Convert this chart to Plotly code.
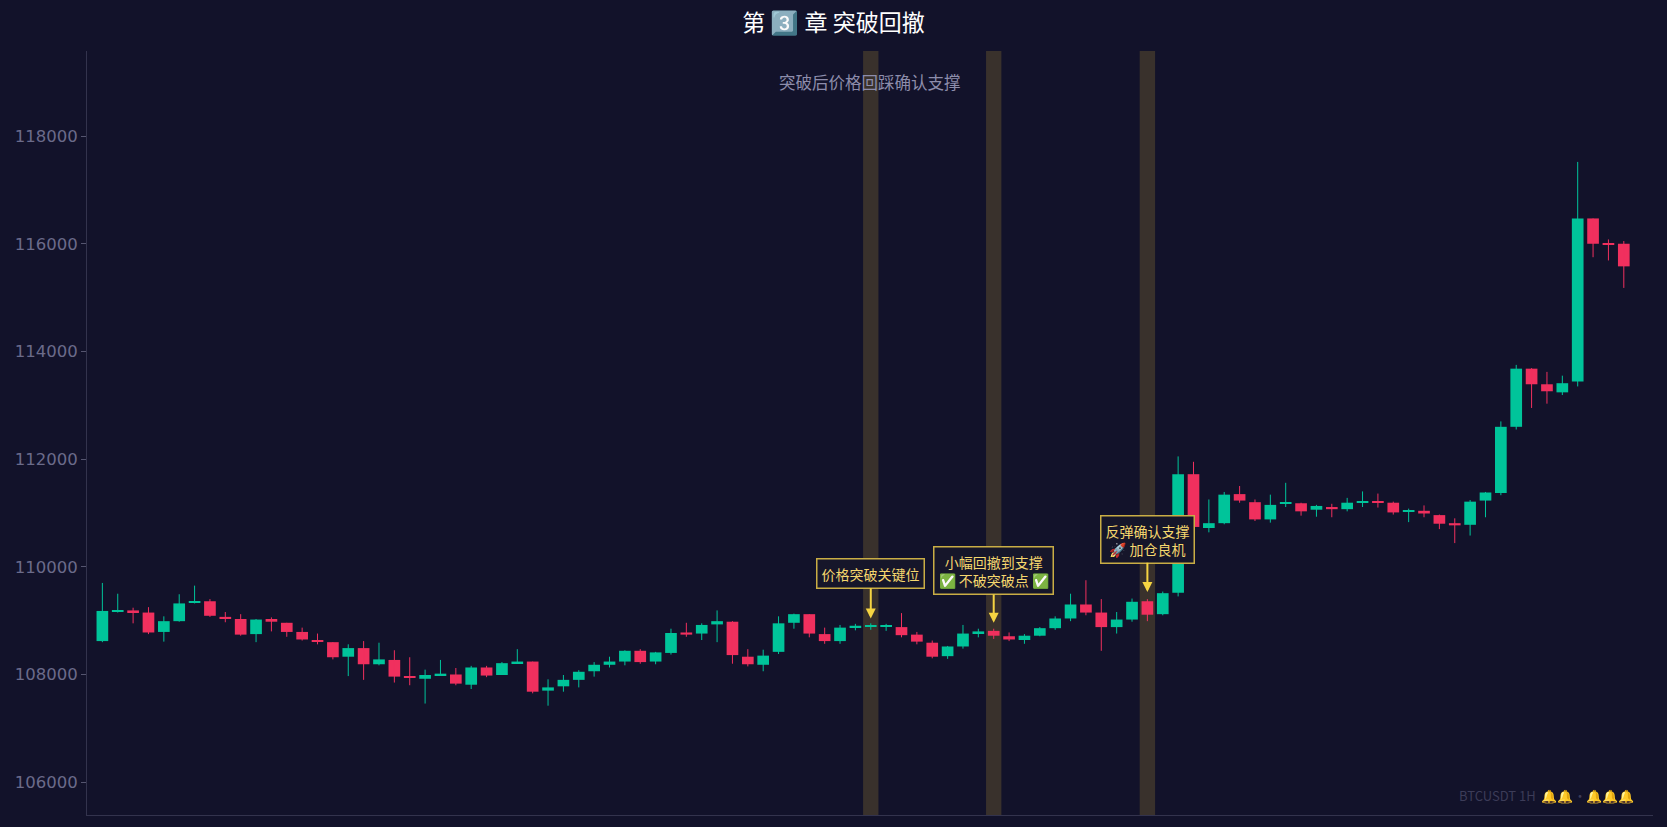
import plotly.graph_objects as go

idx = list(range(100))
opens = [108620,109170,109190,109150,108790,108990,109330,109360,109070,109030,
 108750,109030,108960,108790,108640,108600,108330,108490,108190,108270,
 107950,107920,107990,108000,107810,108130,107990,108210,108240,107700,
 107780,107900,108060,108180,108240,108440,108240,108400,108780,108760,
 108930,108980,108330,108180,108420,108960,109120,108750,108620,108880,
 108890,108890,108880,108740,108590,108340,108520,108770,108810,108710,
 108640,108720,108860,109040,109300,109150,108880,109020,109360,109120,
 109520,111720,110720,110810,111350,111200,110880,111170,111180,111060,
 111110,111070,111190,111210,111190,111020,111040,110960,110810,110780,
 111230,111370,112600,113680,113390,113240,113440,116470,116000,116000]
closes = [109180,109190,109160,108780,108990,109320,109360,109090,109030,108740,
 109020,108980,108790,108650,108610,108320,108490,108190,108280,107960,
 107940,107990,108010,107830,108130,107980,108210,108240,107680,107760,
 107900,108050,108180,108240,108440,108230,108410,108770,108740,108920,
 108990,108360,108190,108350,108950,109120,108760,108620,108870,108900,
 108900,108890,108730,108610,108330,108520,108760,108800,108720,108650,
 108720,108860,109040,109300,109150,108880,109020,109350,109110,109510,
 111720,110740,110810,111340,111230,110880,111150,111200,111030,111130,
 111070,111190,111210,111190,111010,111040,110990,110800,110770,111210,
 111380,112600,113680,113390,113260,113410,116470,116000,115980,115580]
highs = [109700,109500,109240,109250,109080,109490,109650,109400,109160,109120,
 109030,109060,108960,108870,108760,108600,108560,108620,108590,108450,
 108320,108090,108270,108120,108160,108160,108230,108470,108240,107910,
 107990,108080,108230,108330,108450,108470,108420,108850,108960,108950,
 109190,108990,108470,108460,109080,109130,109120,108870,108920,108940,
 108950,108940,109140,108790,108630,108530,108920,108850,108850,108780,
 108750,108880,109080,109500,109750,109400,109160,109410,109400,109540,
 112050,111950,111250,111390,111500,111250,111340,111560,111190,111150,
 111170,111280,111400,111360,111210,111080,111140,110970,110900,111240,
 111390,112700,113750,113690,113620,113550,117520,116470,116080,116050]
lows = [108600,109150,108950,108750,108610,108980,109320,109070,108970,108720,
 108600,108800,108700,108630,108560,108280,107970,107900,108170,107850,
 107800,107460,107980,107800,107730,107950,107990,108200,107650,107420,
 107680,107760,107960,108130,108170,108200,108190,108370,108700,108640,
 108600,108200,108150,108060,108380,108850,108690,108570,108570,108820,
 108830,108810,108690,108560,108300,108290,108480,108690,108660,108620,
 108570,108710,108830,108990,109100,108440,108760,108980,108990,109100,
 109450,110700,110640,110790,111190,110850,110820,111110,110950,110930,
 110920,111030,111110,111100,110970,110830,110920,110700,110440,110580,
 110920,111330,112550,112950,113030,113190,113350,115750,115690,115180]

highlight_idx = [50, 58, 68]
ann_idx = [50, 58, 68]
ann_y = [109040, 108960, 109530]
ann_text = ["价格突破关键位", "小幅回撤到支撑<br>✅ 不破突破点 ✅", "反弹确认支撑<br>🚀 加仓良机"]
ann_ay = [-45, -52, -53]
ytick_vals = [106000, 108000, 110000, 112000, 114000, 116000, 118000]

BG = "#12122a"
UP, DN = "#00c49a", "#f0305e"

fig = go.Figure()
for up, col in [(True, UP), (False, DN)]:
    sel = [i for i in idx if (closes[i] >= opens[i]) == up]
    wx, wy = [], []
    for i in sel:
        wx += [i, i, None]
        wy += [lows[i], highs[i], None]
    fig.add_trace(go.Scatter(x=wx, y=wy, mode="lines", line=dict(color=col, width=1),
                             showlegend=False, hoverinfo="skip"))
    fig.add_trace(go.Bar(x=sel,
                         base=[min(opens[i], closes[i]) for i in sel],
                         y=[max(abs(closes[i] - opens[i]), 25) for i in sel],
                         width=0.76, marker=dict(color=col, line=dict(width=0)),
                         showlegend=False, hoverinfo="skip"))

for i in highlight_idx:
    fig.add_vrect(x0=i - 0.5, x1=i + 0.5, fillcolor="#4a3f2e", opacity=0.7,
                  line_width=0, layer="below")

for i, y, t, ay in zip(ann_idx, ann_y, ann_text, ann_ay):
    fig.add_annotation(x=i, y=y, text=t, showarrow=True, arrowhead=2, arrowsize=1,
                       arrowwidth=2, arrowcolor="#f5d442", ax=0, ay=ay,
                       font=dict(color="#f5d76e", size=14, family="Noto Sans CJK SC"),
                       bgcolor="#16162a", bordercolor="#c9ad45", borderwidth=1.5,
                       borderpad=4)

fig.add_annotation(xref="paper", yref="paper", x=0.5, y=0.978,
                   text="突破后价格回踩确认支撑", showarrow=False,
                   font=dict(color="#8d8dab", size=16.5, family="Noto Sans CJK SC"))
fig.add_annotation(xref="paper", yref="paper", x=0.99, y=0.01, xanchor="right",
                   yanchor="bottom", text="BTCUSDT 1H  🔔🔔·🔔🔔🔔", showarrow=False,
                   font=dict(color="#3c3c58", size=13, family="Noto Sans CJK SC"))

fig.update_layout(
    width=1667, height=827, paper_bgcolor=BG, plot_bgcolor=BG, barmode="overlay",
    title=dict(text="第 3️⃣ 章 突破回撤", x=0.5, xanchor="center", y=0.972,
               yanchor="middle",
               font=dict(color="#ffffff", size=23, family="Noto Sans CJK SC")),
    margin=dict(l=87, r=14, t=51, b=12),
    font=dict(family="Noto Sans CJK SC", color="#6b6b8a"),
    xaxis=dict(range=[-1, 100.9], showgrid=False,
               showticklabels=False, zeroline=False, showline=True,
               linecolor="#33334d", ticks=""),
    yaxis=dict(range=[105390, 119580], tickvals=ytick_vals, tickformat="d",
               showgrid=False, zeroline=False, showline=True, linecolor="#33334d",
               tickfont=dict(size=16.5, color="#6b6b8a", family="DejaVu Sans"),
               ticks="outside", ticklen=5, tickcolor="#55556f"),
)
fig.write_html("out.html", config={"displayModeBar": False})
with open("out.html", encoding="utf-8") as f:
    html = f.read()
html = html.replace("<body>", '<body style="margin:0;background:#12122a;overflow:hidden">', 1)
with open("out.html", "w", encoding="utf-8") as f:
    f.write(html)
